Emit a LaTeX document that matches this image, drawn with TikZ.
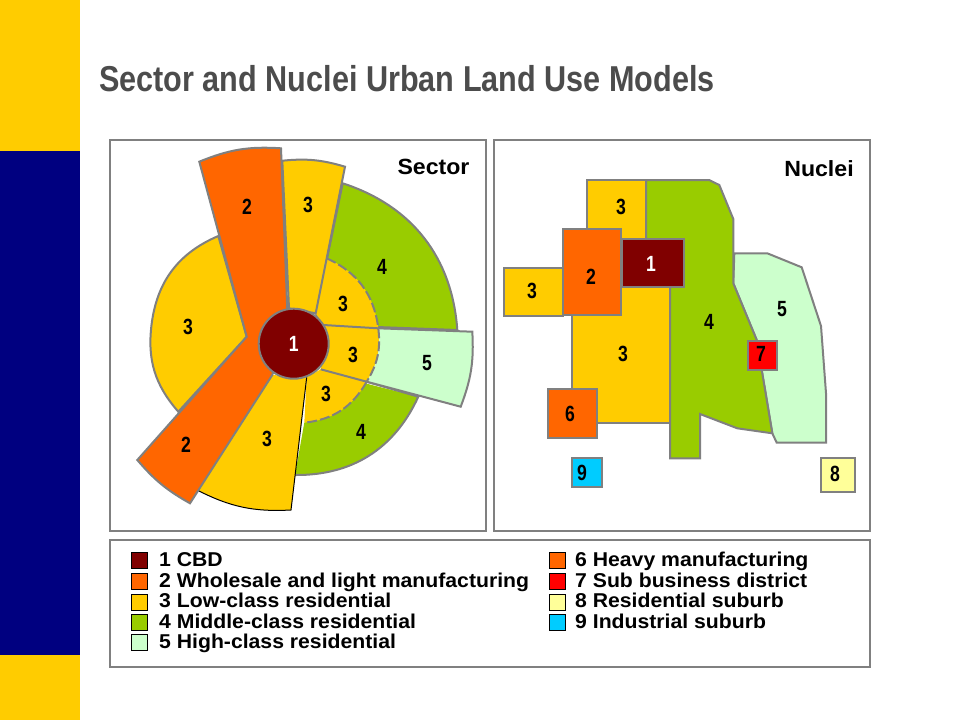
\documentclass[tikz,border=0pt]{standalone}
\usepackage{fontspec}
\setmainfont{Liberation Sans}
\newfontfamily\titlefont[FakeStretch=0.85]{Liberation Sans}
\newfontfamily\digitfont[FakeStretch=0.8]{Liberation Sans}
\newfontfamily\entryfont[FakeStretch=1.06]{Liberation Sans}
\newfontfamily\headfont[FakeStretch=1.05]{Liberation Sans}
\definecolor{barYellow}{HTML}{FFCC00}
\definecolor{barNavy}{HTML}{000080}
\definecolor{zoneCbd}{HTML}{800000}
\definecolor{zoneTwo}{HTML}{FF6600}
\definecolor{zoneThree}{HTML}{FFCC00}
\definecolor{zoneFour}{HTML}{99CC00}
\definecolor{zoneFive}{HTML}{CCFFCC}
\definecolor{zoneSeven}{HTML}{FF0000}
\definecolor{zoneEight}{HTML}{FFFF99}
\definecolor{zoneNine}{HTML}{00CCFF}
\definecolor{edgeGray}{HTML}{808080}
\tikzset{
  zone/.style={draw=edgeGray, line width=2pt, line join=miter},
  frame/.style={draw=edgeGray, line width=2pt, fill=white},
  seam/.style={draw=edgeGray, line width=2pt, dash pattern=on 10pt off 3pt},
  num/.style={font=\digitfont\fontsize{22}{22}\selectfont\bfseries, inner sep=0pt},
  heading/.style={font=\headfont\fontsize{22}{22}\selectfont\bfseries, inner sep=0pt},
  swatch/.style={draw=black, line width=0.6pt, minimum width=16pt, minimum height=16pt, inner sep=0pt},
  entry/.style={font=\entryfont\fontsize{20}{20}\selectfont\bfseries, inner sep=0pt, anchor=base west}
}
\begin{document}
\begin{tikzpicture}[x=1pt, y=-1pt]
            \useasboundingbox (0,0) rectangle (960,720);
            \fill[white] (0,0) rectangle (960,720);

            % side bar
            \fill[barYellow] (0,0) rectangle (80,151);
            \fill[barNavy] (0,151) rectangle (80,655);
            \fill[barYellow] (0,655) rectangle (80,720);

            \node[font=\titlefont\fontsize{36}{36}\selectfont\bfseries, text=black!70, inner sep=0pt, anchor=west] (Title) at (99,79) {Sector and Nuclei Urban Land Use Models};

            \draw[frame] (110,140) rectangle (486,531);
            \draw[frame] (494,140) rectangle (870,531);
            \draw[frame] (110,540) rectangle (870,667);

            % sector model
            \path[zone, fill=zoneFour] (342.7,183.3) to[bend left=34] (457.3,330) -- (323.3,325) -- (315.7,313.3) -- cycle;
            \path[fill=zoneFour] (365,383.3) -- (418.3,396.7) to[bend left=33] (295,475) -- (304.3,422.7) -- cycle;
            \draw[zone] (366.7,381.7) -- (418.3,396.7) to[bend left=33] (295,475);

            \path[fill=zoneThree] (326.7,258.3) to[bend left=29] (378.3,328.3) -- (323.3,325) -- (315.7,313.3) -- cycle;
            \path[fill=zoneThree] (378.3,328.3) to[bend left=19] (366.7,381.7) -- (320.7,369.3) -- (323.3,325) -- cycle;
            \path[fill=zoneThree] (366.7,381.7) to[bend left=27] (304.3,422.7) -- (306.7,377.3) -- (320.7,369.3) -- cycle;
            \draw[zone] (378.3,328.3) -- (323.3,325);
            \draw[zone] (366.7,381.7) -- (320.7,369.3);
            \draw[seam] (326.7,258.3) to[bend left=29] (378.3,328.3);
            \draw[seam] (366.7,381.7) to[bend left=27] (304.3,422.7);

            \path[fill=zoneFive] (378.3,328.3) -- (472.3,331.7) to[bend left=12] (460.7,406.7) -- (366.7,381.7) to[bend right=19] cycle;
            \draw[zone] (378.3,328.3) -- (472.3,331.7) to[bend left=12] (460.7,406.7) -- (366.7,381.7);
            \draw[seam] (378.3,328.3) to[bend left=19] (366.7,381.7);

            \path[zone, fill=zoneThree] (218.3,236) to[bend right=30] (151.5,325) to[bend right=24] (178.3,411.7) -- (246.7,336.7) -- cycle;
            \path[zone, fill=zoneThree] (282.3,160.7) to[bend left=11] (345,166.7) -- (315.7,313.3) -- (289,308.3) -- cycle;
            \fill[zoneThree] (197,490) to[bend right=15] (291,510) -- (306.7,377.3) -- (272.3,375) -- cycle;
            \draw[black, line width=1pt] (197,490) to[bend right=15] (291,510) -- (306.7,377.3);

            \path[zone, fill=zoneTwo] (199.3,161.7) to[bend left=13] (281,148.3) -- (287.7,320) -- (272.3,375) -- (190,503.3) to[bend left=10] (137.3,460) -- (246.7,336.7) -- cycle;

            \node[zone, fill=zoneCbd, circle, minimum size=70pt, inner sep=0pt] (SecCbd) at (293.7,343.7) {};

            \node[num, text=white] (SecOne) at (293.7,344) {1};
            \node[num] (SecTwoA) at (247,207) {2};
            \node[num] (SecTwoB) at (186,445) {2};
            \node[num] (SecThreeA) at (308,205) {3};
            \node[num] (SecThreeB) at (343,304) {3};
            \node[num] (SecThreeC) at (353,355) {3};
            \node[num] (SecThreeD) at (326,394) {3};
            \node[num] (SecThreeE) at (267,439) {3};
            \node[num] (SecThreeF) at (188,327) {3};
            \node[num] (SecFourA) at (382,267) {4};
            \node[num] (SecFourB) at (361,432) {4};
            \node[num] (SecFive) at (427,363) {5};
            \node[heading] (SecName) at (433.5,167) {Sector};

            % nuclei model
            \path[zone, fill=zoneThree] (587.3,180) -- (646,180) -- (646,240) -- (587.3,240) -- cycle;
            \path[zone, fill=zoneThree] (504,268.3) -- (563,268.3) -- (563,315.7) -- (504,315.7) -- cycle;
            \path[zone, fill=zoneThree] (572.3,286.7) -- (670,286.7) -- (670,422.7) -- (572.3,422.7) -- cycle;
            \path[zone, fill=zoneFive] (734.3,253.3) -- (767.3,253.3) -- (801.7,267.3) -- (821,326) -- (826,393.3) -- (826,442.7) -- (776.7,442.7) -- (772.3,433.3) -- (756.7,340) -- (733.3,283.3) -- cycle;
            \path[zone, fill=zoneFour] (646,180) -- (709,180) -- (719.3,185) -- (733.3,219) -- (733.3,283.3) -- (756.7,340) -- (772.3,433.3) -- (737.3,428.3) -- (700,414) -- (700,458.3) -- (670,458.3) -- (670,286.7) -- (646,286.7) -- cycle;

            \node[zone, fill=zoneTwo, minimum width=58pt, minimum height=86pt, inner sep=0pt] (NucTwo) at (592,272.3) {};
            \node[zone, fill=zoneCbd, minimum width=62pt, minimum height=48pt, inner sep=0pt] (NucCbd) at (652.8,262.5) {};
            \node[zone, fill=zoneTwo, minimum width=49pt, minimum height=49pt, inner sep=0pt] (NucSix) at (572.6,413.2) {};
            \node[zone, fill=zoneSeven, minimum width=28.5pt, minimum height=28.5pt, inner sep=0pt] (NucSeven) at (762.6,355.6) {};
            \node[zone, fill=zoneNine, minimum width=30.5pt, minimum height=29pt, inner sep=0pt] (NucNine) at (587,472.6) {};
            \node[zone, fill=zoneEight, minimum width=34pt, minimum height=34pt, inner sep=0pt] (NucEight) at (838.2,475) {};

            \node[num, text=white] (NucOne) at (651,264) {1};
            \node[num] (NucTwoL) at (591,277) {2};
            \node[num] (NucThreeA) at (621,207) {3};
            \node[num] (NucThreeB) at (532,291) {3};
            \node[num] (NucThreeC) at (623,354) {3};
            \node[num] (NucFour) at (709,322) {4};
            \node[num] (NucFive) at (782,309) {5};
            \node[num] (NucSixL) at (570,414) {6};
            \node[num] (NucSevenL) at (761,354) {7};
            \node[num] (NucEightL) at (835,474) {8};
            \node[num] (NucNineL) at (582,473) {9};
            \node[heading] (NucName) at (819,169) {Nuclei};

            % legend
            \node[swatch, fill=zoneCbd] (KeyA) at (139.7,560.3) {};
            \node[entry] (TxtA) at (159,566.5) {1 CBD};
            \node[swatch, fill=zoneTwo] (KeyB) at (139.7,581) {};
            \node[entry] (TxtB) at (159,587) {2 Wholesale and light manufacturing};
            \node[swatch, fill=zoneThree] (KeyC) at (139.7,602) {};
            \node[entry] (TxtC) at (159,607.5) {3 Low-class residential};
            \node[swatch, fill=zoneFour] (KeyD) at (139.7,622) {};
            \node[entry] (TxtD) at (159,628) {4 Middle-class residential};
            \node[swatch, fill=zoneFive] (KeyE) at (139.7,642.5) {};
            \node[entry] (TxtE) at (159,648.5) {5 High-class residential};

            \node[swatch, fill=zoneTwo] (KeyF) at (557.3,560.3) {};
            \node[entry] (TxtF) at (575,566.5) {6 Heavy manufacturing};
            \node[swatch, fill=zoneSeven] (KeyG) at (557.3,581) {};
            \node[entry] (TxtG) at (575,587) {7 Sub business district};
            \node[swatch, fill=zoneEight] (KeyH) at (557.3,602) {};
            \node[entry] (TxtH) at (575,607.5) {8 Residential suburb};
            \node[swatch, fill=zoneNine] (KeyI) at (557.3,622) {};
            \node[entry] (TxtI) at (575,628) {9 Industrial suburb};
\end{tikzpicture}
\end{document}
